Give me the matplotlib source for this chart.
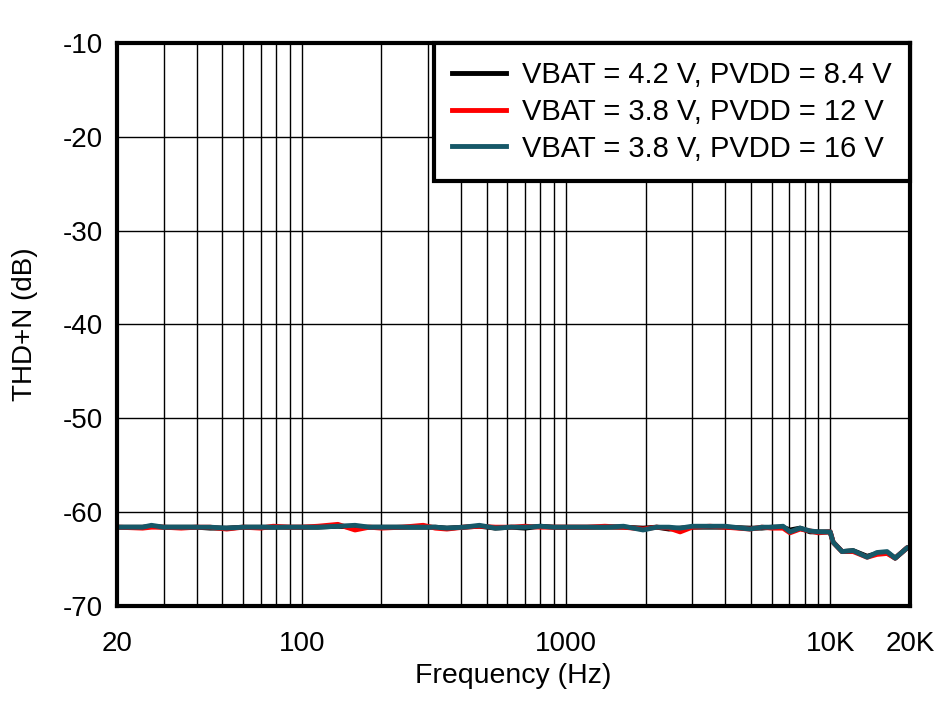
import matplotlib
matplotlib.use("Agg")
import matplotlib.pyplot as plt
from matplotlib.ticker import FixedLocator, NullFormatter

plt.rcParams['font.family'] = ['Liberation Sans', 'DejaVu Sans']

freq = [20, 25, 27, 30, 35, 40, 45, 52, 60, 70, 78, 90, 100, 115, 137, 159, 180, 200,
        240, 288, 320, 354, 410, 470, 540, 620, 700, 800, 900, 1000, 1200, 1400, 1650,
        1956, 2200, 2450, 2700, 3000, 3500, 4000, 4970, 5500, 6000, 6620, 7030, 7680,
        8380, 9000, 9977, 10240, 11070, 12190, 13770, 15000, 16380, 17580, 19500, 20000]

thd_42_84 = [-61.6, -61.6, -61.5, -61.6, -61.6, -61.6, -61.7, -61.7, -61.6, -61.6, -61.6, -61.6,
             -61.6, -61.6, -61.5, -61.6, -61.6, -61.6, -61.6, -61.6, -61.6, -61.7, -61.6, -61.5,
             -61.7, -61.6, -61.7, -61.5, -61.6, -61.6, -61.6, -61.6, -61.6, -61.7, -61.6, -61.8,
             -61.7, -61.6, -61.6, -61.6, -61.7, -61.7, -61.6, -61.6, -61.9, -61.7, -62.1, -62.1,
             -62.1, -63.2, -64.2, -64.1, -64.7, -64.4, -64.3, -64.9, -63.8, -63.7]

thd_38_12 = [-61.6, -61.7, -61.6, -61.6, -61.7, -61.6, -61.6, -61.8, -61.6, -61.7, -61.5, -61.6,
             -61.6, -61.5, -61.3, -61.9, -61.6, -61.7, -61.6, -61.4, -61.7, -61.8, -61.6, -61.5,
             -61.6, -61.6, -61.5, -61.6, -61.6, -61.6, -61.6, -61.5, -61.6, -61.8, -61.6, -61.7,
             -62.1, -61.6, -61.5, -61.6, -61.8, -61.6, -61.7, -61.7, -62.2, -61.8, -62.0, -62.2,
             -62.1, -63.2, -64.2, -64.2, -64.8, -64.5, -64.4, -64.9, -63.8, -63.7]

thd_38_16 = [-61.6, -61.6, -61.4, -61.6, -61.6, -61.6, -61.6, -61.7, -61.6, -61.6, -61.6, -61.6,
             -61.6, -61.6, -61.5, -61.4, -61.6, -61.6, -61.6, -61.6, -61.6, -61.7, -61.6, -61.4,
             -61.7, -61.6, -61.6, -61.5, -61.6, -61.6, -61.6, -61.6, -61.5, -61.9, -61.6, -61.6,
             -61.7, -61.5, -61.5, -61.5, -61.8, -61.6, -61.6, -61.5, -62.1, -61.7, -62.0, -62.1,
             -62.1, -63.2, -64.2, -64.1, -64.8, -64.3, -64.2, -64.9, -63.8, -63.7]

labels = ['VBAT = 4.2 V, PVDD = 8.4 V', 'VBAT = 3.8 V, PVDD = 12 V', 'VBAT = 3.8 V, PVDD = 16 V']
colors = ['#000000', '#ff0000', '#165868']

xticks = [20, 100, 1000, 10000, 20000]
xticklabels = ['20', '100', '1000', '10K', '20K']
yticks = [-70, -60, -50, -40, -30, -20, -10]

fig = plt.figure(figsize=(9.38, 7.01), dpi=100)
ax = fig.add_axes([117/938, 1 - 606/701, (910-117)/938, (606-43)/701])

for y, lab, c in zip([thd_42_84, thd_38_12, thd_38_16], labels, colors):
    ax.plot(freq, y, color=c, lw=3.5, label=lab, solid_joinstyle='round')

ax.set_xscale('log')
ax.set_xlim(20, 20000)
ax.set_ylim(-70, -10)
ax.xaxis.set_major_locator(FixedLocator(xticks))
ax.set_xticklabels(xticklabels)
minors = [m * d for d in (10, 100, 1000, 10000) for m in range(2, 10) if 20 < m * d < 20000]
ax.xaxis.set_minor_locator(FixedLocator(minors))
ax.xaxis.set_minor_formatter(NullFormatter())
ax.set_yticks(yticks)
ax.set_yticklabels([str(v) for v in yticks])

ax.grid(True, which='both', axis='x', color='black', lw=1)
ax.grid(True, which='major', axis='y', color='black', lw=1)
ax.tick_params(which='both', length=0, labelsize=20)
ax.tick_params(axis='y', pad=10)
ax.tick_params(axis='x', pad=18)
for s in ax.spines.values():
    s.set_linewidth(3)

ax.set_xlabel('Frequency (Hz)', fontsize=20.5, labelpad=4)
ax.set_ylabel('THD+N (dB)', fontsize=20, labelpad=18)

leg = ax.legend(loc='upper right', fontsize=21, frameon=True, fancybox=False,
                borderaxespad=0, handlelength=1.85, edgecolor='black', framealpha=1,
                labelspacing=0.3, borderpad=0.62, handletextpad=0.55)
leg.get_frame().set_linewidth(3)

fig.savefig('out.png', dpi=100)
